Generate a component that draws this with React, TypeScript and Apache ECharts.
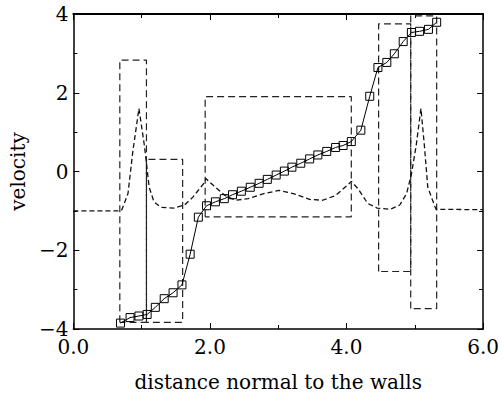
import React, { useEffect, useRef } from "react";
import * as echarts from "echarts";

// solid line with square markers
const profX = [0.69, 0.83, 0.96, 1.08, 1.2, 1.33, 1.46, 1.59, 1.71, 1.83,
  1.95, 2.08, 2.21, 2.33, 2.46, 2.59, 2.72, 2.84, 2.97, 3.09, 3.2, 3.33, 3.46, 3.58, 3.71, 3.84, 3.95, 4.07,
  4.21, 4.34, 4.46, 4.59, 4.7, 4.83, 4.95, 5.07, 5.2, 5.32];
const profY = [-3.85, -3.71, -3.67, -3.63, -3.45, -3.23, -3.08, -2.88, -2.1, -1.16,
  -0.87, -0.77, -0.69, -0.59, -0.5, -0.4, -0.3, -0.2, -0.09, 0.01, 0.11, 0.21, 0.32, 0.42, 0.51, 0.61, 0.66, 0.76,
  1.05, 1.91, 2.64, 2.77, 2.99, 3.3, 3.53, 3.56, 3.61, 3.79];

// dashed curve
const curveX = [0, 0.68, 0.71, 0.8, 0.87, 0.96, 1.04, 1.11, 1.18, 1.28, 1.47, 1.63, 1.75, 1.92, 1.94,
  2.08, 2.22, 2.37, 2.56, 2.79, 3.01, 3.22, 3.46, 3.65, 3.84, 4.03, 4.07, 4.17, 4.31, 4.45, 4.64,
  4.78, 4.88, 4.95, 5.02, 5.09, 5.14, 5.19, 5.26, 5.31, 6.0];
const curveY = [-1.0, -1.0, -0.97, -0.56, 0.5, 1.6, 0.66, -0.4, -0.77, -0.91, -0.93, -0.85, -0.65, -0.28, -0.18,
  -0.4, -0.61, -0.73, -0.69, -0.56, -0.48, -0.56, -0.71, -0.73, -0.61, -0.32, -0.25, -0.44, -0.81, -0.93, -0.96,
  -0.85, -0.56, -0.07, 0.66, 1.6, 0.66, -0.4, -0.73, -0.96, -0.97];

// dashed rectangles (piecewise ranges)
const rectLeft = [0.68, 1.07, 1.93, 4.47, 4.94];
const rectRight = [1.07, 1.6, 4.07, 4.94, 5.32];
const rectTop = [2.83, 0.31, 1.9, 3.75, 3.95];
const rectBottom = [-3.83, -3.83, -1.15, -2.54, -3.48];

const xTicks = [0, 2, 4, 6];
const yTicks = [-4, -2, 0, 2, 4];

const FONT = "DejaVu Serif";

export default function App() {
  const ref = useRef<HTMLDivElement>(null);
  useEffect(() => {
    document.body.style.margin = "0";
    const chart = echarts.init(ref.current!, null, { renderer: "svg" });
    const rectSeries = rectLeft.map((x0, i) => ({
      type: "line",
      data: [
        [x0, rectBottom[i]],
        [x0, rectTop[i]],
        [rectRight[i], rectTop[i]],
        [rectRight[i], rectBottom[i]],
        [x0, rectBottom[i]],
      ],
      showSymbol: false,
      symbol: "none",
      lineStyle: { color: "#222", width: 1.2, type: [7, 4] },
      z: 2,
    }));
    const tickCommon = {
      axisTick: { show: true, inside: true, length: 6, lineStyle: { color: "#000", width: 1 } },
      minorTick: { show: true, splitNumber: 2, length: 4, lineStyle: { color: "#000", width: 1 } },
      splitLine: { show: false },
    };
    chart.setOption({
      animation: false,
      backgroundColor: "#fff",
      grid: { left: 67, right: 13, top: 14, bottom: 57 },
      xAxis: [
        {
          type: "value",
          min: xTicks[0],
          max: xTicks[xTicks.length - 1],
          interval: 2,
          ...tickCommon,
          axisLine: { show: true, onZero: false, lineStyle: { color: "#000", width: 1.5 } },
          axisLabel: {
            color: "#000",
            fontFamily: FONT,
            fontSize: 20,
            margin: 8,
            formatter: (v: number) => v.toFixed(1),
          },
          name: "distance normal to the walls",
          nameLocation: "middle",
          nameGap: 43,
          nameTextStyle: { color: "#000", fontFamily: FONT, fontSize: 20 },
        },
        {
          type: "value",
          position: "top",
          min: xTicks[0],
          max: xTicks[xTicks.length - 1],
          interval: 2,
          ...tickCommon,
          axisLine: { show: true, onZero: false, lineStyle: { color: "#000", width: 2 } },
          axisLabel: { show: false },
        },
      ],
      yAxis: [
        {
          type: "value",
          min: yTicks[0],
          max: yTicks[yTicks.length - 1],
          interval: 2,
          ...tickCommon,
          axisLine: { show: true, onZero: false, lineStyle: { color: "#000", width: 1.5 } },
          axisLabel: {
            color: "#000",
            fontFamily: FONT,
            fontSize: 20,
            margin: 5,
            formatter: (v: number) => (v < 0 ? "\u2212" + Math.abs(v) : String(v)),
          },
          name: "velocity",
          nameLocation: "middle",
          nameRotate: 90,
          nameGap: 44,
          nameTextStyle: { color: "#000", fontFamily: FONT, fontSize: 20 },
        },
        {
          type: "value",
          position: "right",
          min: yTicks[0],
          max: yTicks[yTicks.length - 1],
          interval: 2,
          ...tickCommon,
          axisLine: { show: true, onZero: false, lineStyle: { color: "#000", width: 1.5 } },
          axisLabel: { show: false },
        },
      ],
      series: [
        ...rectSeries,
        {
          type: "line",
          data: curveX.map((x, i) => [x, curveY[i]]),
          showSymbol: false,
          symbol: "none",
          lineStyle: { color: "#111", width: 1.3, type: [5, 3] },
          z: 3,
        },
        {
          type: "line",
          data: profX.map((x, i) => [x, profY[i]]),
          symbol: "rect",
          symbolSize: 8,
          showSymbol: true,
          itemStyle: { color: "rgba(255,255,255,0)", borderColor: "#000", borderWidth: 1 },
          lineStyle: { color: "#000", width: 1 },
          z: 4,
        },
      ],
    });
    return () => chart.dispose();
  }, []);
  return <div ref={ref} style={{ position: "absolute", left: 0, top: 0, width: 502, height: 397 }} />;
}
